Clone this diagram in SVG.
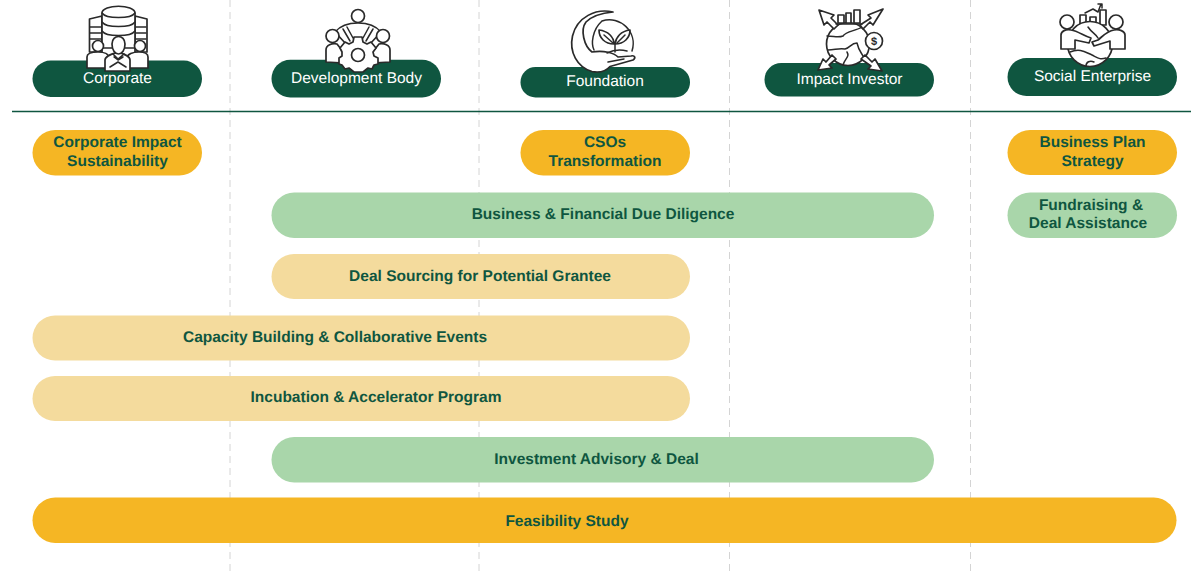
<svg xmlns="http://www.w3.org/2000/svg" width="1191" height="571" viewBox="0 0 1191 571">
<style>
text{font-family:"Liberation Sans",Arial,sans-serif;text-anchor:middle;text-rendering:geometricPrecision}
.h{fill:#0f5640}
.h-t{fill:#fff;font-size:15.500px}
.t{fill:#0f5640;font-size:15.500px;font-weight:700}
.y{fill:#f5b624}.g{fill:#a9d6aa}.s{fill:#f4db9d}
.d{stroke:#d4d4d4;stroke-width:1;stroke-dasharray:7 5;fill:none}
.i{fill:#fff;stroke:#2a2a2a;stroke-width:1.700;stroke-linejoin:round;stroke-linecap:round}
.l{fill:none;stroke:#2a2a2a;stroke-width:1.500;stroke-linecap:round;stroke-linejoin:round}
</style>
<rect width="1191" height="571" fill="#fff"/>
<g id="connectors">
<path class="d" d="M230 0V571M479 0V571M729.500 0V571M970.500 0V571"/>
<path d="M12 111.500H1191" stroke="#0f5640" stroke-width="1.300" fill="none"/>
</g>
<g id="corporate">
<rect class="h" x="32.500" y="60.500" width="169.500" height="36.500" rx="18.200"/>
<path class="i" d="M89.500 19L102 16V52H89.500ZM147 19L135 16V52H147Z"/>
<path class="l" d="M90 27H101M90 33H101M90 39H101M136 27H146M136 33H146M136 39H146"/>
<path class="i" d="M102 13C102 4 135 4 135 13V48H102Z"/>
<path class="l" d="M102 13C106 19 131 19 135 13M102 22C106 28 131 28 135 22M102 31C106 37 131 37 135 31"/>
<circle class="i" cx="98" cy="46" r="5.500"/><circle class="i" cx="140" cy="46" r="5.500"/>
<path class="i" d="M87 68V57C87 53 92 52 98 52C104 52 109 54 109 58V68ZM148 68V57C148 53 145 52 139 52C133 52 127 54 127 58V68Z"/>
<path class="i" d="M105 71V60C105 56 112 54 118 52C124 54 130 56 130 60V71Z"/>
<path class="i" d="M112 44C112 34 125 34 125 44C125 50 122 54 118.500 54C115 54 112 50 112 44Z"/>
<path class="l" d="M113 54L118 59L124 54M114 57L118 60L123 57M110 67L118 62L126 67"/>
<text class="h-t" x="117.500" y="83">Corporate</text>
</g>
<g id="development-body">
<rect class="h" x="271.500" y="59.800" width="169.500" height="37.700" rx="18.800"/>
<circle class="i" cx="358" cy="16" r="6.500"/>
<path class="i" d="M335 32C340 26 348 23 358 23C368 23 376 26 381 32L370 44H346Z"/>
<path class="l" d="M343 29L350 41M347 27L353 38M373 29L366 41M369 27L363 38"/>
<circle class="i" cx="332.500" cy="36" r="6.500"/><circle class="i" cx="383" cy="36" r="6.500"/>
<path class="i" d="M326 62V50C326 45 332 43 337 44L348 58L344 63ZM390 62V50C390 45 384 43 379 44L368 58L372 63Z"/>
<path class="i" d="M354 37H362L363 42L367 44L371 42L376 48L373 52L374 56L378 58V64L374 65L372 69L368 68L363 72H354L349 68L345 69L342 65L339 64V58L342 56V52L340 48L345 42L349 44L353 42Z"/>
<circle class="i" cx="358" cy="55" r="6.500"/>
<text class="h-t" x="356.500" y="83">Development Body</text>
</g>
<g id="foundation">
<rect class="h" x="520.500" y="67" width="169.500" height="30.500" rx="15"/>
<path class="i" d="M613 12C596 8 577 17 572.500 36C569 52 577 67 592 71.500C600 73 606 71 610 66.500L633 60C636 58 635 55 631 56L618 57C614 53 604 50 592 52C584 46 580 30 586 22C592 16 602 13 613 12Z"/>
<path class="l" d="M602 21C620 15 638 32 632 51M602 21C592 30 591 44 594 50M607 53C613 50 620 49 627 51"/>
<path class="i" d="M599 30C608 31 614 37 614 44C605 44 599 38 599 30ZM630 30C621 31 616 37 615 44C624 44 630 38 630 30Z"/>
<path class="l" d="M615 44V52M604 35L613 43M625 35L617 43M608 62L624 59"/>
<text class="h-t" x="605" y="86">Foundation</text>
</g>
<g id="impact-investor">
<rect class="h" x="764.500" y="63" width="169.500" height="33.500" rx="16.700"/>
<circle class="i" cx="848" cy="44" r="21.500"/>
<path class="l" d="M827 36C834 36 838 38 843 36C846 31 856 31 862 27M828 50C835 50 838 48 845 49C850 48 851 43 857 43C859 52 862 53 864 58M843 65C845 58 850 57 847 52"/>
<path class="i" d="M834 29L827 22L824 25L819 10L834 15L831 18L838 25ZM863 29L870 22L873 25L883 9L868 15L871 18L860 25ZM832 55L826 62L823 59L818 70L832 68L829 65L836 59ZM865 55L872 62L875 59L882 71L868 69L871 66L861 59Z"/>
<path class="i" d="M838 23V15H844V23ZM846 23V13H851V23ZM854 23V10H860V23Z"/>
<path class="l" d="M836 24H862"/>
<circle class="i" cx="874" cy="41" r="8.500"/>
<text x="874" y="45" fill="#2a2a2a" font-size="11" font-weight="700">$</text>
<text class="h-t" x="849.500" y="84">Impact Investor</text>
</g>
<g id="social-enterprise">
<rect class="h" x="1007.500" y="58" width="169.500" height="38" rx="19"/>
<path class="l" d="M1085 13L1093 9L1098 12L1101 4M1098 4H1102L1102 8"/>
<path class="i" d="M1080 15H1086V25H1080ZM1090 17H1096V25H1090ZM1100 10H1106V25H1100Z"/>
<circle class="i" cx="1090" cy="44" r="22.500"/>
<path class="l" d="M1070 52C1080 48 1085 52 1092 55C1098 58 1100 60 1106 58M1086 66C1086 62 1090 60 1094 62M1088 27C1092 33 1096 34 1098 38"/>
<circle class="i" cx="1067" cy="22" r="7"/><circle class="i" cx="1116" cy="22" r="7"/>
<path class="i" d="M1061 49V35C1061 31 1066 29 1071 30C1078 31 1084 36 1091 38L1089 43L1075 40V49ZM1125 49V35C1125 31 1119 29 1114 30C1107 31 1103 36 1098 40L1092 42L1094 46L1110 41V49Z"/>
<text class="h-t" x="1092.500" y="81">Social Enterprise</text>
</g>
<g id="corporate-impact"><rect class="y" x="32.500" y="130" width="169.500" height="45.500" rx="22.700"/><text class="t" x="117.500" y="147">Corporate Impact</text><text class="t" x="117.500" y="166">Sustainability</text></g>
<g id="csos"><rect class="y" x="520.500" y="130" width="169.500" height="45.500" rx="22.700"/><text class="t" x="605" y="147">CSOs</text><text class="t" x="605" y="166">Transformation</text></g>
<g id="business-plan"><rect class="y" x="1007.500" y="130" width="169.500" height="45" rx="22.500"/><text class="t" x="1092.500" y="147">Business Plan</text><text class="t" x="1092.500" y="166">Strategy</text></g>
<g id="due-diligence"><rect class="g" x="271.500" y="192.500" width="662.500" height="45.500" rx="22.700"/><text class="t" x="603" y="219">Business &amp; Financial Due Diligence</text></g>
<g id="fundraising"><rect class="g" x="1007.500" y="192.500" width="169.500" height="45.500" rx="22.700"/><text class="t" x="1091" y="210">Fundraising &amp;</text><text class="t" x="1088" y="228">Deal Assistance</text></g>
<g id="deal-sourcing"><rect class="s" x="271.500" y="254" width="418.500" height="45" rx="22.500"/><text class="t" x="480" y="281">Deal Sourcing for Potential Grantee</text></g>
<g id="capacity-building"><rect class="s" x="32.500" y="315.500" width="657.500" height="45" rx="22.500"/><text class="t" x="335" y="342">Capacity Building &amp; Collaborative Events</text></g>
<g id="incubation"><rect class="s" x="32.500" y="376" width="657.500" height="45" rx="22.500"/><text class="t" x="376" y="402">Incubation &amp; Accelerator Program</text></g>
<g id="investment-advisory"><rect class="g" x="271.500" y="437" width="662.500" height="45.500" rx="22.700"/><text class="t" x="596.500" y="464">Investment Advisory &amp; Deal</text></g>
<g id="feasibility"><rect class="y" x="32.500" y="497.500" width="1144" height="45.500" rx="22.700"/><text class="t" x="567" y="526">Feasibility Study</text></g>
</svg>
